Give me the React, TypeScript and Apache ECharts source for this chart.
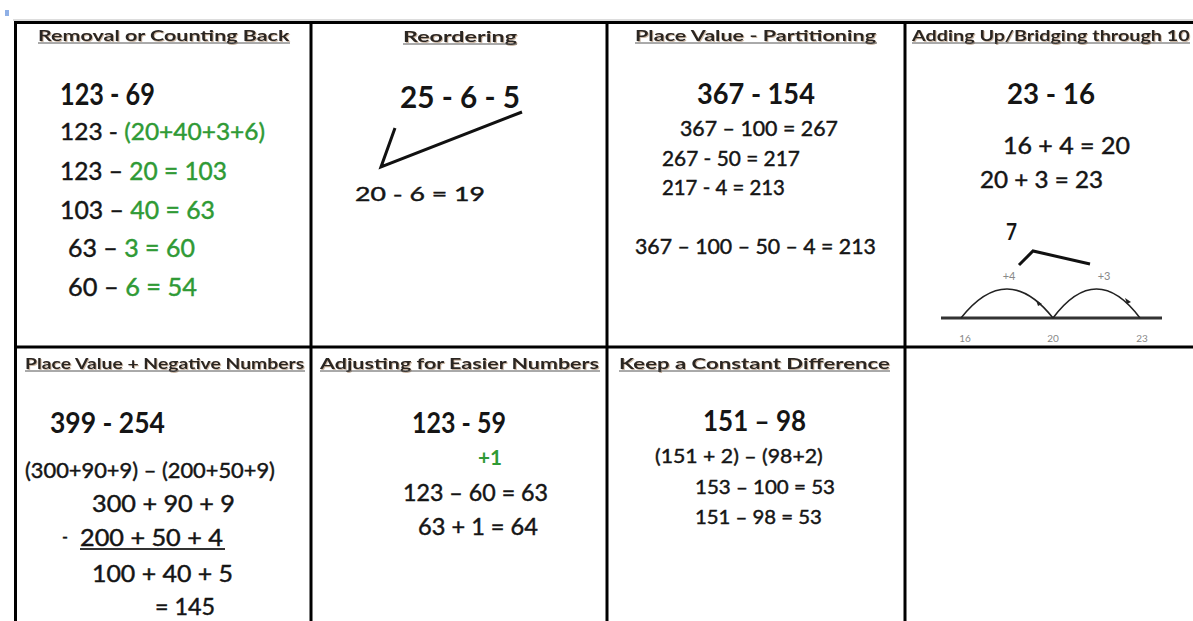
import React, { useEffect, useRef } from "react";
import * as echarts from "echarts";

// ---- content (text only) ----
const strategyTitles = [
  "Removal or Counting Back",
  "Reordering",
  "Place Value - Partitioning",
  "Adding Up/Bridging through 10",
  "Place Value + Negative Numbers",
  "Adjusting for Easier Numbers",
  "Keep a Constant Difference",
];
// "|" splits black part from green part
const removalLines = ["123 - 69", "123 - |(20+40+3+6)", "123 – |20 = 103", "103 – |40 = 63", "63 – |3 = 60", "60 – |6 = 54"];
const reorderLines = ["25 - 6 - 5", "20 - 6 = 19"];
const partitionLines = ["367 - 154", "367 – 100 = 267", "267 - 50 = 217", "217 - 4 = 213", "367 – 100 – 50 – 4 = 213"];
const bridgingLines = ["23 - 16", "16 + 4 = 20", "20 + 3 = 23", "7"];
const numberLineTicks = ["16", "20", "23"];
const jumpLabels = ["+4", "+3"];
const negativeLines = ["399 - 254", "(300+90+9) – (200+50+9)", "300 + 90 + 9", "-", "200 + 50 + 4", "100 + 40 + 5", "= 145"];
const adjustLines = ["123 - 59", "|+1", "123 – 60 = 63", "63 + 1 = 64"];
const constantLines = ["151 – 98", "(151 + 2) – (98+2)", "153 – 100 = 53", "151 – 98 = 53"];

// ---- layout (x left, y middle, target width, font size, bold) ----
type L = [number, number, number, number, boolean];
const titleLayout: L[] = [
  [38, 35, 252, 15, true],
  [403, 36, 114, 15, true],
  [635, 35, 242, 15, true],
  [912, 35, 278, 15, true],
  [25, 363, 280, 15, true],
  [320, 363, 280, 15, true],
  [619, 363, 271, 15, true],
];
const removalLayout: L[] = [
  [60, 94, 95, 30, true],
  [60, 131, 205, 24, false],
  [60, 170, 167, 25, false],
  [60, 209, 155, 25, false],
  [68, 247, 127, 25, false],
  [68, 286, 129, 25, false],
];
const reorderLayout: L[] = [
  [400, 96, 120, 30, true],
  [355, 193, 130, 20, false],
];
const partitionLayout: L[] = [
  [697, 93, 118, 28, true],
  [680, 128, 158, 21, false],
  [662, 157, 138, 21, false],
  [662, 187, 123, 21, false],
  [635, 246, 241, 21, false],
];
const bridgingLayout: L[] = [
  [1007, 93, 88, 28, true],
  [1003, 145, 127, 23, false],
  [980, 179, 123, 23, false],
  [1006, 231, 11, 22, true],
];
const negativeLayout: L[] = [
  [50, 422, 115, 28, true],
  [25, 470, 250, 21, false],
  [92, 503, 143, 23, false],
  [62, 535, 6, 20, false],
  [80, 537, 143, 23, false],
  [92, 573, 141, 23, false],
  [155, 606, 60, 23, false],
];
const adjustLayout: L[] = [
  [412, 422, 94, 28, true],
  [478, 457, 24, 20, true],
  [403, 492, 145, 23, false],
  [418, 526, 120, 23, false],
];
const constantLayout: L[] = [
  [703, 420, 103, 28, true],
  [655, 455, 168, 20, false],
  [695, 486, 140, 20, false],
  [695, 516, 127, 20, false],
];

const INK = "#151515";
const GREEN = "#2f9a35";
const FONT = "Lato";

let measureCtx: CanvasRenderingContext2D | null = null;
function measure(text: string, size: number, bold: boolean) {
  if (!measureCtx) measureCtx = document.createElement("canvas").getContext("2d");
  measureCtx!.font = `${bold ? "bold" : "normal"} ${size}px ${FONT}`;
  return measureCtx!.measureText(text).width;
}

function lineElements(lines: string[], layout: L[], color = INK, family = FONT) {
  const out: any[] = [];
  lines.forEach((line, i) => {
    const [x, y, w, size, bold] = layout[i];
    const parts = line.split("|");
    const full = parts.join("");
    const s = w / Math.max(1, measure(full, size, bold));
    let cx = x;
    parts.forEach((p, j) => {
      if (!p) return;
      const fill = j === 0 ? color : GREEN;
      out.push({
        type: "text",
        x: cx,
        y,
        scaleX: s,
        style: {
          text: p,
          fontSize: size,
          fontWeight: bold ? "bold" : "normal",
          fontFamily: family,
          fill,
          stroke: bold ? undefined : fill,
          lineWidth: bold ? 0 : 0.45,
          verticalAlign: "middle",
          align: "left",
        },
      });
      cx += measure(p, size, bold) * s;
    });
  });
  return out;
}

function seg(x1: number, y1: number, x2: number, y2: number, w = 3, c = "#000") {
  return { type: "line", shape: { x1, y1, x2, y2 }, style: { stroke: c, lineWidth: w } };
}

export default function App() {
  const ref = useRef<HTMLDivElement>(null);
  useEffect(() => {
    const chart = echarts.init(ref.current!, undefined, { renderer: "svg" });
    const els: any[] = [];
    // table grid
    els.push(seg(13, 20, 1193, 20, 1, "#bbb"));
    els.push(seg(14, 22.5, 1193, 22.5, 3));
    els.push(seg(14, 347, 1193, 347, 3));
    [15.5, 311, 607, 905].forEach((x) => els.push(seg(x, 21, x, 621, 3)));
    els.push({ type: "rect", shape: { x: 5, y: 10, width: 4, height: 6 }, style: { fill: "#8fb0e6" } });

    // titles with underline
    const titleEls = lineElements(strategyTitles, titleLayout, "#2a2522");
    titleEls.forEach((t) => {
      t.style.textShadowColor = "rgba(140,100,60,0.45)";
      t.style.textShadowOffsetX = 1;
      t.style.textShadowOffsetY = 1;
      t.style.textShadowBlur = 1;
    });
    els.push(...titleEls);
    titleLayout.forEach(([x, y, w]) => els.push(seg(x, y + 8, x + w, y + 8, 1, "#555")));

    els.push(...lineElements(removalLines, removalLayout));
    els.push(...lineElements(reorderLines, reorderLayout));
    els.push(...lineElements(partitionLines, partitionLayout));
    els.push(...lineElements(bridgingLines, bridgingLayout));
    els.push(...lineElements(negativeLines, negativeLayout));
    els.push(...lineElements(adjustLines, adjustLayout));
    els.push(...lineElements(constantLines, constantLayout));

    // reordering arrow
    els.push({
      type: "polyline",
      shape: { points: [[522, 112], [381, 167], [395, 128]] },
      style: { stroke: "#111", lineWidth: 3, fill: null },
    });
    // underline in subtraction
    els.push(seg(80, 549, 225, 549, 2, "#333"));

    // number line
    els.push(seg(941, 318, 1162, 318, 3, "#333"));
    const arcs = [[961, 1053], [1053, 1140]];
    arcs.forEach(([a, b]) => {
      els.push({
        type: "bezierCurve",
        shape: { x1: a, y1: 318, x2: b, y2: 318, cpx1: (a + b) / 2, cpy1: 260 },
        style: { stroke: "#222", lineWidth: 1.6, fill: null },
      });
    });
    els.push({ type: "polygon", shape: { points: [[1036, 300], [1042, 304], [1038, 306]] }, style: { fill: "#222" } });
    els.push({ type: "polygon", shape: { points: [[1125, 298], [1131, 302], [1127, 304]] }, style: { fill: "#222" } });
    // bracket
    els.push({
      type: "polyline",
      shape: { points: [[1019, 265], [1033, 251], [1090, 264]] },
      style: { stroke: "#111", lineWidth: 3, fill: null },
    });
    const tickX = [965, 1053, 1142];
    numberLineTicks.forEach((t, i) =>
      els.push({
        type: "text",
        x: tickX[i],
        y: 338,
        style: { text: t, fontSize: 10, fontFamily: FONT, fill: "#888", align: "center", verticalAlign: "middle" },
      })
    );
    const jumpX = [1009, 1104];
    jumpLabels.forEach((t, i) =>
      els.push({
        type: "text",
        x: jumpX[i],
        y: 275,
        style: { text: t, fontSize: 11, fontFamily: FONT, fill: "#888", align: "center", verticalAlign: "middle" },
      })
    );

    chart.setOption({ animation: false, backgroundColor: "#fff", graphic: { elements: els } });
    return () => chart.dispose();
  }, []);
  return <div ref={ref} style={{ position: "fixed", left: 0, top: 0, width: 1193, height: 621 }} />;
}
